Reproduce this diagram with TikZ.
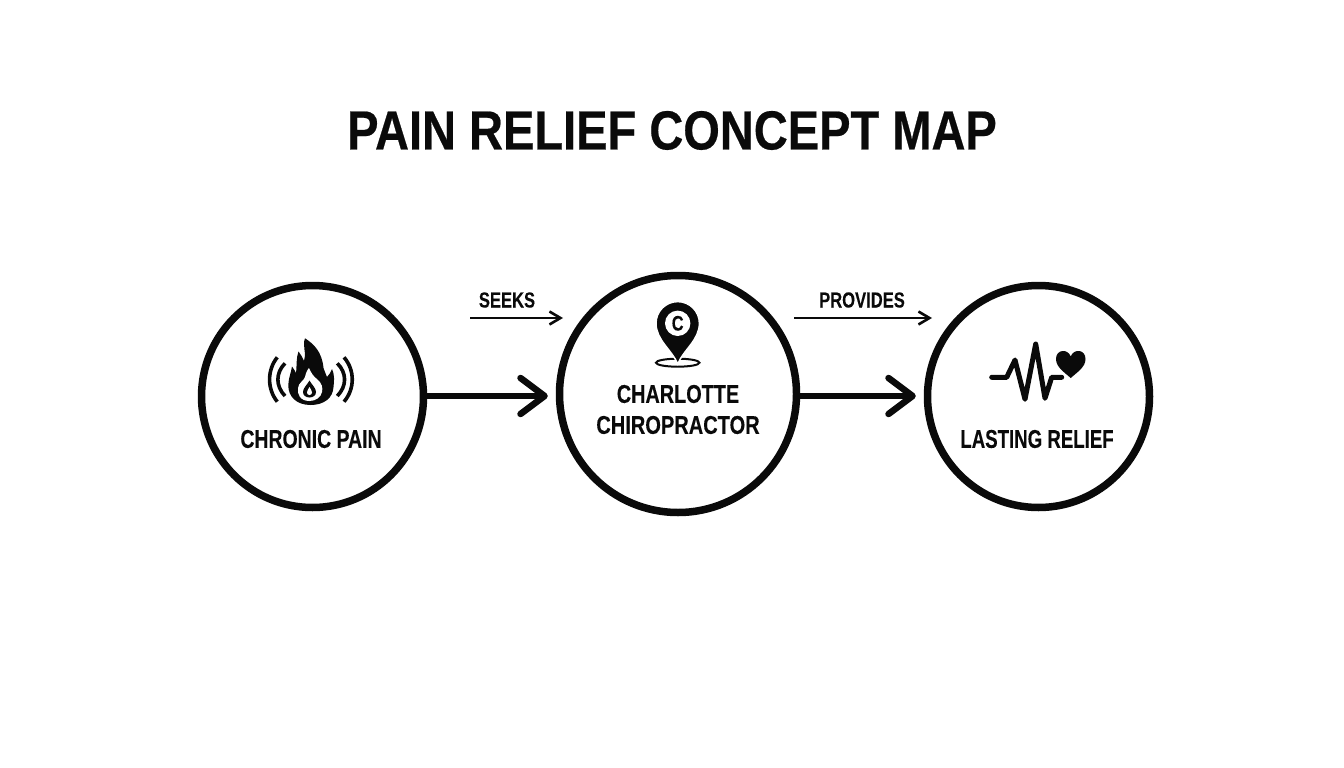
\documentclass[tikz,border=0pt]{standalone}
\usepackage{fontspec}
\setmainfont{Liberation Sans}[BoldFont={Liberation Sans Bold},BoldFeatures={FakeBold=0.15},FakeStretch=0.78]
\newfontfamily\wide{Liberation Sans Bold}[FakeStretch=0.855,FakeBold=0.4]
\usetikzlibrary{arrows.meta}
\definecolor{ink}{HTML}{0A0A0A}
\tikzset{
  ring/.style={circle,draw=ink,line width=7.5pt,minimum size=#1,inner sep=0pt,fill=white},
  title/.style={font=\wide\fontsize{55}{58}\selectfont,text=ink,inner sep=0pt},
  concept/.style={font=\bfseries\fontsize{25.7}{28}\selectfont,text=ink,inner sep=0pt},
  rel/.style={font=\bfseries\fontsize{21.8}{24}\selectfont,text=ink,inner sep=0pt,xscale=.975},
  flow/.style={draw=ink,line width=6.5pt,line cap=round,-{Straight Barb[length=24pt,width=36pt,round,line width=6.5pt]}},
  relflow/.style={draw=ink,line width=2.6pt,-{Straight Barb[length=11pt,width=13pt,line width=2.6pt]}},
  wave/.style={draw=ink,line width=3.6pt,line cap=butt},
  pulse/.style={draw=ink,line width=5pt,line cap=round,line join=round},
}
\begin{document}
\begin{tikzpicture}[x=1pt,y=-1pt]
\useasboundingbox (0,0) rectangle (1344,768);
\fill[white] (0,0) rectangle (1344,768);
\node[title] (t) at (672,130.5) {PAIN RELIEF CONCEPT MAP};
\node[ring=222pt] (a) at (312.5,396.5) {};
\node[ring=237pt] (b) at (678,394) {};
\node[ring=222pt] (c) at (1038.5,396.5) {};
\coordinate (s1) at (470,318); \coordinate (e1) at (563,318);
\coordinate (s2) at (794,318); \coordinate (e2) at (932,318);
\draw[flow,shorten >=8pt] (a.east |- 0,396) -- (b.west |- 0,396);
\draw[flow,shorten >=8pt] (b.east |- 0,396) -- (c.west |- 0,396);
\draw[relflow] (s1) -- (e1);
\draw[relflow] (s2) -- (e2);
\node[rel] (l1) at (507,300) {SEEKS};
\node[rel] (l2) at (862,300) {PROVIDES};
\node[concept,xscale=.97] (ta) at (311,439) {CHRONIC PAIN};
\node[concept,xscale=.99] (tb1) at (678,394) {CHARLOTTE};
\node[concept] (tb2) at (678,425) {CHIROPRACTOR};
\node[concept,xscale=.93] (tc) at (1037,439) {LASTING RELIEF};
% flame icon
\fill[ink] (310.5,405) .. controls (296,405) and (288,396) .. (288.3,385)
  .. controls (288.5,378) and (291,373) .. (292,366.5)
  .. controls (294,369) and (295,371) .. (296,373)
  .. controls (297,365) and (296,358) .. (298.5,351.5)
  .. controls (301,355) and (303,358) .. (304,361)
  .. controls (307,354) and (302,346) .. (305,338.3)
  .. controls (314,344) and (322,352) .. (323.5,368)
  .. controls (325,372) and (326,375) .. (327,377)
  .. controls (329,375) and (331,372) .. (332,369)
  .. controls (335,376) and (334,381) .. (333.5,387)
  .. controls (333,398) and (324,405) .. (310.5,405) -- cycle;
\fill[white] (309.5,401) .. controls (300,401) and (297,394) .. (298,388)
  .. controls (299,382) and (303,382) .. (305,377)
  .. controls (306,372) and (308,369) .. (309,368)
  .. controls (311,373) and (314,377) .. (317,379)
  .. controls (322,383) and (323,388) .. (322,392)
  .. controls (321,397) and (316,401) .. (309.5,401) -- cycle;
\fill[ink] (309.5,380.5) .. controls (312,385) and (316,388) .. (316,392)
  .. controls (316,395.5) and (313,397.5) .. (309.5,397.5)
  .. controls (306,397.5) and (303,395.5) .. (303,392)
  .. controls (303,388) and (307,385) .. (309.5,380.5) -- cycle;
\fill[white] (309.5,387) .. controls (310.5,389) and (312,390.5) .. (312,392.5)
  .. controls (312,394) and (311,395) .. (309.5,395)
  .. controls (308,395) and (307,394) .. (307,392.5)
  .. controls (307,390.5) and (308.5,389) .. (309.5,387) -- cycle;
\draw[wave] (277.3,357.3) .. controls (267,370) and (267,389) .. (277.3,401.7);
\draw[wave] (285,363.3) .. controls (275.5,373) and (275.5,386) .. (285,396);
\draw[wave] (337.3,363.3) .. controls (347,373) and (347,386) .. (337.3,396);
\draw[wave] (344,357.3) .. controls (355,370) and (355,389) .. (344,401.7);
% pin icon
\draw[ink,line width=2pt] (677.7,362.7) ellipse (21.7pt and 4pt);
\fill[ink,draw=white,line width=1.5pt] (677.7,364)
  .. controls (672,350) and (656,340) .. (656,323.3)
  arc[start angle=180,end angle=360,radius=21.7pt,y radius=-21.7pt]
  .. controls (699.4,340) and (683.4,350) .. (677.7,364) -- cycle;
\fill[white] (677.7,323.3) circle (12.7pt);
\node[font=\bfseries\fontsize{21}{22}\selectfont,text=ink,inner sep=0pt] (pc) at (677.7,323.3) {C};
% pulse icon
\draw[pulse] (991.7,377.3) -- (1006.7,377.3) -- (1015,360) -- (1025,399.3) -- (1035.7,344) -- (1045,398.3) -- (1051.7,377.3) -- (1061.7,377.3);
\fill[ink] (1070.7,378) .. controls (1064,372) and (1056,367) .. (1056,359)
  .. controls (1056,349) and (1068,348.5) .. (1070.7,356.5)
  .. controls (1073.5,348.5) and (1085.5,349) .. (1085.5,359)
  .. controls (1085.5,367) and (1077.5,372) .. (1070.7,378) -- cycle;
\end{tikzpicture}
\end{document}
